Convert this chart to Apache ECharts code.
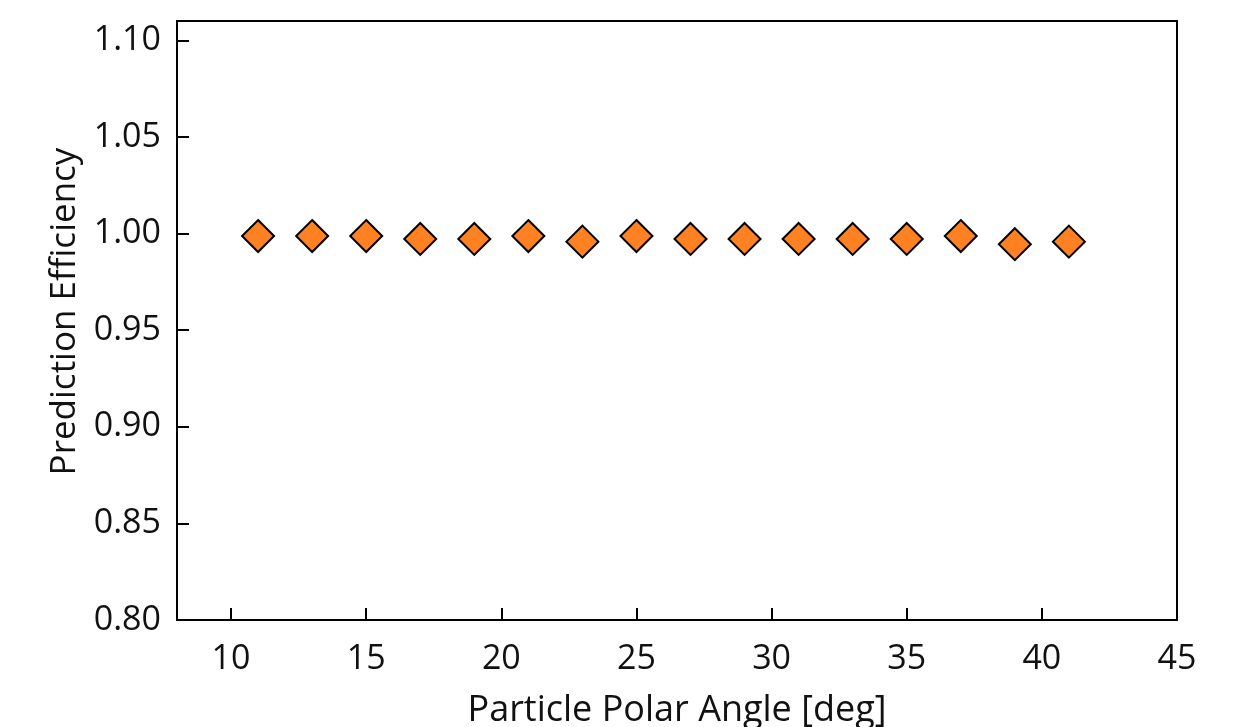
<!DOCTYPE html>
<html>
<head>
<meta charset="utf-8">
<script src="https://cdn.jsdelivr.net/npm/echarts@6/dist/echarts.min.js"></script>
<style>html,body{margin:0;padding:0;background:#fff;}#c{width:1250px;height:727px;}</style>
</head>
<body>
<div id="c"></div>
<script>
const angles = [11, 13, 15, 17, 19, 21, 23, 25, 27, 29, 31, 33, 35, 37, 39, 41];
const efficiency = [0.9987, 0.9987, 0.9987, 0.9972, 0.9972, 0.9987, 0.9958, 0.9987, 0.9972, 0.9972, 0.9972, 0.9972, 0.9972, 0.9987, 0.9945, 0.9958];
const xTicks = [10, 15, 20, 25, 30, 35, 40, 45];
const yTicks = [0.80, 0.85, 0.90, 0.95, 1.00, 1.05, 1.10];
const xTitle = 'Particle Polar Angle [deg]';
const yTitle = 'Prediction Efficiency';

const font = '"Open Sans", Lato, sans-serif';
const chart = echarts.init(document.getElementById('c'), null, {renderer: 'canvas'});
chart.setOption({
  animation: false,
  backgroundColor: '#fff',
  grid: {left: 177, right: 73, top: 21, bottom: 107, outerBoundsMode: 'none', containLabel: false,
    show: true, borderColor: '#000', borderWidth: 2, backgroundColor: 'transparent'},
  xAxis: {
    type: 'value', min: 8, max: 45,
    name: xTitle, nameLocation: 'middle', nameGap: 73,
    nameTextStyle: {fontFamily: font, fontSize: 36, color: '#111'},
    axisLine: {show: true, onZero: false, lineStyle: {color: '#000', width: 2}},
    axisTick: {show: true, inside: true, length: 12, customValues: xTicks, lineStyle: {color: '#000', width: 2}},
    axisLabel: {fontFamily: font, fontSize: 34, color: '#111', margin: 22, customValues: xTicks,
      formatter: v => String(v)},
    splitLine: {show: false}
  },
  yAxis: {
    type: 'value', min: 0.80, max: 1.11,
    name: yTitle, nameLocation: 'middle', nameGap: 94,
    nameTextStyle: {fontFamily: font, fontSize: 35, color: '#111', padding: [0, 0, 0, 18]},
    axisLine: {show: true, lineStyle: {color: '#000', width: 2}},
    axisTick: {show: true, inside: true, length: 12, customValues: yTicks, lineStyle: {color: '#000', width: 2}},
    axisLabel: {fontFamily: font, fontSize: 34, color: '#111', margin: 16, customValues: yTicks,
      formatter: v => v.toFixed(2)},
    splitLine: {show: false}
  },
  series: [{
    type: 'scatter',
    data: angles.map((a, i) => [a, efficiency[i]]),
    symbol: 'diamond',
    symbolSize: [32, 32],
    itemStyle: {color: '#ff8122', borderColor: '#000', borderWidth: 2, opacity: 1}
  }]
});
</script>
</body>
</html>
